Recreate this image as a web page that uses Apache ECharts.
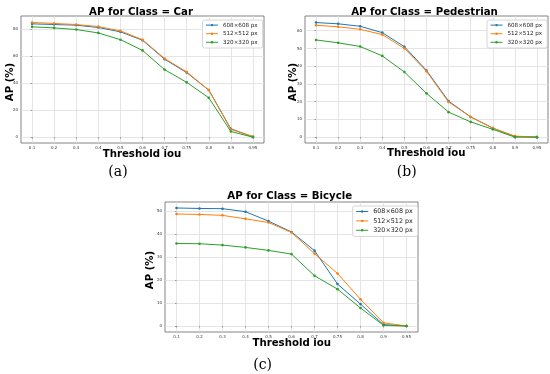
<!DOCTYPE html>
<html>
<head>
<meta charset="utf-8">
<script src="https://cdn.jsdelivr.net/npm/echarts@6/dist/echarts.min.js"></script>
<style>html,body{margin:0;padding:0;background:#fff;}#c{width:550px;height:374px;}</style>
</head>
<body>
<div id="c"></div>
<script>
const thresholds = ['0.1','0.2','0.3','0.4','0.5','0.6','0.7','0.75','0.8','0.9','0.95'];
const seriesNames = ['608×608 px', '512×512 px', '320×320 px'];

const car608 = [83.7, 83.2, 82.7, 81.0, 77.8, 71.6, 57.6, 47.7, 34.8, 6.2, 0.3];
const car512 = [84.7, 84.0, 83.2, 81.7, 78.5, 72.0, 58.1, 48.2, 34.8, 5.7, 0.5];
const car320 = [81.5, 80.7, 79.5, 77.0, 72.0, 64.1, 49.9, 40.5, 29.1, 4.2, 0.0];

const ped608 = [64.6, 63.9, 62.5, 58.9, 51.0, 37.6, 20.3, 11.4, 5.1, 0.4, 0.0];
const ped512 = [63.1, 62.2, 60.8, 57.8, 50.0, 37.1, 19.8, 11.4, 5.1, 0.6, 0.0];
const ped320 = [54.8, 53.2, 51.1, 45.8, 36.7, 24.7, 14.1, 8.6, 4.4, 0.0, 0.0];

const bic608 = [51.2, 51.0, 50.9, 49.6, 45.5, 40.8, 32.7, 18.2, 9.5, 0.6, 0.0];
const bic512 = [48.6, 48.4, 48.0, 46.5, 44.9, 40.6, 31.4, 22.8, 11.6, 1.4, 0.0];
const bic320 = [35.8, 35.7, 35.1, 34.1, 32.8, 31.2, 21.8, 16.0, 7.8, 0.3, 0.0];

const carTicks = [0, 20, 40, 60, 80];
const pedTicks = [0, 10, 20, 30, 40, 50, 60];
const bicTicks = [0, 10, 20, 30, 40, 50];

const titles = ['AP for Class = Car', 'AP for Class = Pedestrian', 'AP for Class = Bicycle'];
const subLabels = ['(a)', '(b)', '(c)'];
const xTitle = 'Threshold iou';
const yTitle = 'AP (%)';

const colors = ['#1f77b4', '#ff7f0e', '#2ca02c'];

const panels = [
  {grid: {left: 21, top: 16, width: 243, height: 127}, ymin: -4.3, ymax: 89.5, ticks: carTicks, data: [car608, car512, car320],
   title: [141, 12], xl: [142, 154.3], yl: [10, 82], sub: [118, 172],
   legend: {left: 202.5, top: 20}, lfont: 5.6},
  {grid: {left: 305, top: 16, width: 243, height: 127}, ymin: -3.3, ymax: 68.3, ticks: pedTicks, data: [ped608, ped512, ped320],
   title: [424.5, 12], xl: [426.3, 153.8], yl: [293, 82], sub: [406.7, 172],
   legend: {left: 487, top: 20}, lfont: 5.6},
  {grid: {left: 165, top: 202, width: 253, height: 130}, ymin: -2.6, ymax: 53.8, ticks: bicTicks, data: [bic608, bic512, bic320],
   title: [289.7, 196.5], xl: [291.7, 343.8], yl: [150.7, 270], sub: [262.7, 365],
   legend: {left: 352.7, top: 206}, lfont: 6.4}
];

const idx = thresholds.map((t, i) => i);

const option = {
  animation: false,
  backgroundColor: '#ffffff',
  grid: [], xAxis: [], yAxis: [], series: [], legend: [], graphic: []
};

panels.forEach((p, k) => {
  option.grid.push(Object.assign({show: true, borderColor: '#666', borderWidth: 0.8, backgroundColor: '#fff'}, p.grid));
  option.xAxis.push({
    type: 'value', gridIndex: k, min: -0.5, max: 10.5,
    axisLine: {show: false},
    axisTick: {show: true, length: 1.5, lineStyle: {color: '#666', width: 0.6}, customValues: idx},
    axisLabel: {customValues: idx, fontSize: 4, color: '#333', margin: 2.5, fontFamily: 'DejaVu Sans',
      formatter: v => thresholds[Math.round(v)] || ''},
    splitLine: {show: true, lineStyle: {color: '#dedede', width: 0.8}}
  });
  option.yAxis.push({
    type: 'value', gridIndex: k, min: p.ymin, max: p.ymax,
    axisLine: {show: false},
    axisTick: {show: true, length: 1.5, lineStyle: {color: '#666', width: 0.6}, customValues: p.ticks},
    axisLabel: {customValues: p.ticks, fontSize: 4, color: '#333', margin: 3, fontFamily: 'DejaVu Sans'},
    splitLine: {show: true, lineStyle: {color: '#dedede', width: 0.8}}
  });
  p.data.forEach((arr, s) => {
    option.series.push({
      type: 'line', name: seriesNames[s], xAxisIndex: k, yAxisIndex: k,
      data: arr.map((v, i) => [i, v]),
      symbol: 'circle', symbolSize: 2.6, showSymbol: true,
      itemStyle: {color: colors[s]},
      lineStyle: {color: colors[s], width: 1},
      z: 3 + s
    });
  });
  option.legend.push({
    orient: 'vertical', left: p.legend.left, top: p.legend.top,
    data: seriesNames,
    itemWidth: 12, itemHeight: 3, itemGap: 2,
    padding: [1.8, 5, 2.4, 3],
    lineStyle: {width: 1},
    backgroundColor: '#fff', borderColor: '#cccccc', borderWidth: 0.8, borderRadius: 2,
    textStyle: {fontSize: p.lfont, fontFamily: 'DejaVu Sans', color: '#222', lineHeight: p.lfont + 1, padding: [0, 0, 0, 0]},
    selectedMode: false
  });
  option.graphic.push(
    {type: 'text', x: p.title[0], y: p.title[1], z: 10,
     style: {text: titles[k], font: 'bold 10.2px "DejaVu Sans"', fill: '#000', textAlign: 'center', textVerticalAlign: 'middle'}},
    {type: 'text', x: p.xl[0], y: p.xl[1], z: 10,
     style: {text: xTitle, font: 'bold 10.2px "DejaVu Sans"', fill: '#000', textAlign: 'center', textVerticalAlign: 'middle'}},
    {type: 'text', x: p.yl[0], y: p.yl[1], rotation: Math.PI / 2, z: 10,
     style: {text: yTitle, font: 'bold 10.2px "DejaVu Sans"', fill: '#000', textAlign: 'center', textVerticalAlign: 'middle'}},
    {type: 'text', x: p.sub[0], y: p.sub[1], z: 10,
     style: {text: subLabels[k], font: '14px "DejaVu Serif"', fill: '#000', textAlign: 'center', textVerticalAlign: 'middle'}}
  );
});

const chart = echarts.init(document.getElementById('c'), null, {renderer: 'canvas'});
chart.setOption(option);
</script>
</body>
</html>
